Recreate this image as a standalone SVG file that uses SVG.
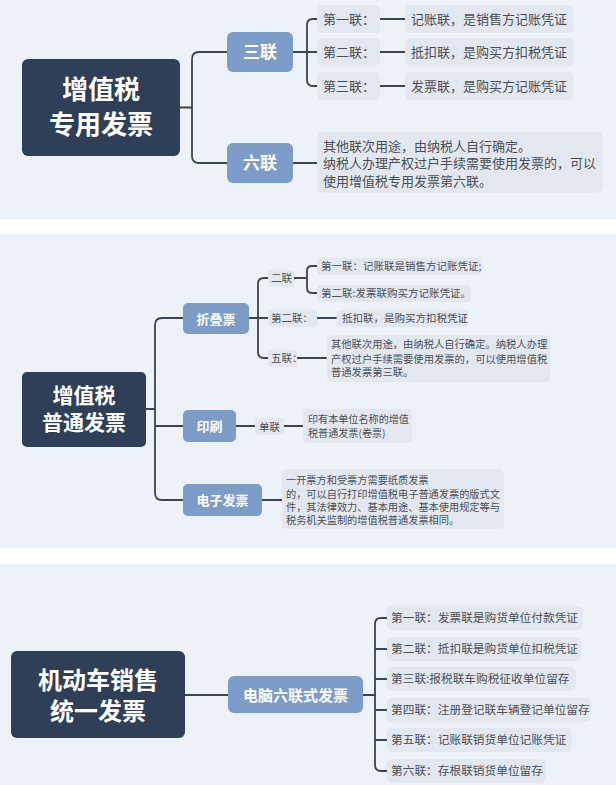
<svg xmlns="http://www.w3.org/2000/svg" width="616" height="785" viewBox="0 0 616 785">
<style>
.panel{fill:#edf1f8}
.root{fill:#2e3f57}
.sub{fill:#7d9cc7}
.box{fill:#e3e8f0}
.ln{fill:none;stroke:#3b4452;stroke-width:1.8;stroke-linecap:round}
text{font-family:"Noto Sans CJK SC","Noto Sans",sans-serif}
.rt{fill:#ffffff;font-weight:bold;text-anchor:middle}
.st{fill:#ffffff;font-weight:bold;text-anchor:middle}
.t{fill:#4a4f57}
</style>
<rect width="616" height="785" fill="#ffffff"/>
<rect class="panel" x="0" y="0" width="616" height="219"/>
<rect class="panel" x="0" y="234" width="616" height="314"/>
<rect class="panel" x="0" y="564" width="616" height="221"/>

<g id="connectors">
<!-- panel 1 -->
<path class="ln" d="M180,107.5 H192 M227,52 H199 Q192,52 192,59 V156 Q192,163 199,163 H227"/>
<path class="ln" d="M293,52 H317 M317,19 H313 Q307,19 307,25 V80 Q307,86 313,86 H317"/>
<path class="ln" d="M380,19 H405 M380,52 H405 M380,86 H405"/>
<path class="ln" d="M293,163 H317"/>
<!-- panel 2 -->
<path class="ln" d="M146,409 H155 M183,318 H162 Q155,318 155,325 V493 Q155,500 162,500 H183 M155,426 H183"/>
<path class="ln" d="M249,318 H268 M268,278 H264 Q258,278 258,284 V352 Q258,358 264,358 H268"/>
<path class="ln" d="M293,278 H307 M317,266 H312 Q307,266 307,271 V288 Q307,293 312,293 H317"/>
<path class="ln" d="M317,318 H336 M297,358 H326"/>
<path class="ln" d="M236,426 H255 M284,426 H303"/>
<path class="ln" d="M262,500 H282"/>
<!-- panel 3 -->
<path class="ln" d="M185,695 H228 M363,695 H375"/>
<path class="ln" d="M387,618 H381 Q375,618 375,624 V765 Q375,771 381,771 H387 M375,649 H387 M375,679 H387 M375,710 H387 M375,740 H387"/>
</g>

<!-- panel 1 nodes -->
<g id="root1">
<rect class="root" x="22" y="59" width="158" height="97" rx="6"/>
<text class="rt" x="101" y="99" font-size="26">增值税</text>
<text class="rt" x="101" y="134" font-size="26">专用发票</text>
</g>
<g id="sanlian">
<rect class="sub" x="227" y="32" width="66" height="40" rx="6"/>
<text class="st" x="260" y="58" font-size="17">三联</text>
</g>
<g id="liulian">
<rect class="sub" x="227" y="143" width="66" height="40" rx="6"/>
<text class="st" x="260" y="169" font-size="17">六联</text>
</g>
<g id="p1-l1"><rect class="box" x="317" y="5" width="63" height="28" rx="5"/><text class="t" x="323" y="23.5" font-size="13">第一联：</text></g>
<g id="p1-v1"><rect class="box" x="405" y="5" width="168" height="28" rx="5"/><text class="t" x="411" y="23.5" font-size="13">记账联，是销售方记账凭证</text></g>
<g id="p1-l2"><rect class="box" x="317" y="38" width="63" height="28" rx="5"/><text class="t" x="323" y="56.5" font-size="13">第二联：</text></g>
<g id="p1-v2"><rect class="box" x="405" y="38" width="168" height="28" rx="5"/><text class="t" x="411" y="56.5" font-size="13">抵扣联，是购买方扣税凭证</text></g>
<g id="p1-l3"><rect class="box" x="317" y="72" width="63" height="28" rx="5"/><text class="t" x="323" y="90.5" font-size="13">第三联：</text></g>
<g id="p1-v3"><rect class="box" x="405" y="72" width="168" height="28" rx="5"/><text class="t" x="411" y="90.5" font-size="13">发票联，是购买方记账凭证</text></g>
<g id="p1-v6">
<rect class="box" x="317" y="132" width="286" height="61" rx="6"/>
<text class="t" x="323" y="150.5" font-size="13">其他联次用途，由纳税人自行确定。</text>
<text class="t" x="323" y="168" font-size="13">纳税人办理产权过户手续需要使用发票的，可以</text>
<text class="t" x="323" y="186" font-size="13">使用增值税专用发票第六联。</text>
</g>

<!-- panel 2 nodes -->
<g id="root2">
<rect class="root" x="22" y="372" width="124" height="75" rx="5"/>
<text class="rt" x="84" y="403" font-size="21">增值税</text>
<text class="rt" x="84" y="430" font-size="21">普通发票</text>
</g>
<g id="zhedie"><rect class="sub" x="183" y="303" width="66" height="31" rx="5"/><text class="st" x="216" y="323.5" font-size="13">折叠票</text></g>
<g id="yinshua"><rect class="sub" x="183" y="410" width="53" height="32" rx="5"/><text class="st" x="209.5" y="430.5" font-size="13">印刷</text></g>
<g id="dianzi"><rect class="sub" x="183" y="484" width="79" height="32" rx="5"/><text class="st" x="222.5" y="504.5" font-size="13">电子发票</text></g>
<g id="erlian"><rect class="box" x="268" y="270" width="26" height="17" rx="4"/><text class="t" x="271" y="282" font-size="10.5">二联</text></g>
<g id="p2-e1"><rect class="box" x="317" y="258" width="164" height="17" rx="4"/><text class="t" x="321" y="270" font-size="10.5">第一联：记账联是销售方记账凭证;</text></g>
<g id="p2-e2"><rect class="box" x="317" y="285" width="154" height="17" rx="4"/><text class="t" x="321" y="297" font-size="10.5">第二联:发票联购买方记账凭证。</text></g>
<g id="p2-l2"><rect class="box" x="268" y="310" width="49" height="17" rx="4"/><text class="t" x="271" y="322" font-size="10.5">第二联：</text></g>
<g id="p2-v2"><rect class="box" x="337" y="310" width="131" height="17" rx="4"/><text class="t" x="342" y="322" font-size="10.5">抵扣联，是购买方扣税凭证</text></g>
<g id="p2-l5"><rect class="box" x="268" y="350" width="29" height="17" rx="4"/><text class="t" x="271" y="362" font-size="10.5">五联：</text></g>
<g id="p2-v5">
<rect class="box" x="327" y="335" width="223" height="47" rx="5"/>
<text class="t" x="331" y="348" font-size="10.3">其他联次用途，由纳税人自行确定。纳税人办理</text>
<text class="t" x="331" y="362.5" font-size="10.3">产权过户手续需要使用发票的，可以使用增值税</text>
<text class="t" x="331" y="376" font-size="10.3">普通发票第三联。</text>
</g>
<g id="danlian"><rect class="box" x="255" y="418" width="29" height="17" rx="4"/><text class="t" x="259" y="430.5" font-size="10.5">单联</text></g>
<g id="p2-ys"><rect class="box" x="303" y="409" width="109" height="34" rx="5"/>
<text class="t" x="308" y="423" font-size="10.1">印有本单位名称的增值</text>
<text class="t" x="308" y="437" font-size="10.1">税普通发票(卷票)</text>
</g>
<g id="p2-dz"><rect class="box" x="282" y="469" width="222" height="60" rx="5"/>
<text class="t" x="286" y="484" font-size="10.2">一开票方和受票方需要纸质发票</text>
<text class="t" x="286" y="498" font-size="10.2">的，可以自行打印增值税电子普通发票的版式文</text>
<text class="t" x="286" y="511" font-size="10.2">件，其法律效力、基本用途、基本使用规定等与</text>
<text class="t" x="286" y="524" font-size="10.2">税务机关监制的增值税普通发票相同。</text>
</g>

<!-- panel 3 nodes -->
<g id="root3">
<rect class="root" x="11" y="651" width="174" height="87" rx="6"/>
<text class="rt" x="98" y="689" font-size="24">机动车销售</text>
<text class="rt" x="98" y="720" font-size="24">统一发票</text>
</g>
<g id="diannao"><rect class="sub" x="228" y="676" width="135" height="37" rx="6"/><text class="st" x="295.5" y="700.5" font-size="15">电脑六联式发票</text></g>
<g id="p3-1"><rect class="box" x="387" y="606" width="196" height="24" rx="5"/><text class="t" x="391" y="622" font-size="11.7">第一联：发票联是购货单位付款凭证</text></g>
<g id="p3-2"><rect class="box" x="387" y="637" width="194" height="24" rx="5"/><text class="t" x="391" y="653" font-size="11.7">第二联：抵扣联是购货单位扣税凭证</text></g>
<g id="p3-3"><rect class="box" x="387" y="667" width="189" height="24" rx="5"/><text class="t" x="391" y="683" font-size="11.7">第三联:报税联车购税征收单位留存</text></g>
<g id="p3-4"><rect class="box" x="387" y="698" width="204" height="24" rx="5"/><text class="t" x="391" y="714" font-size="11.7">第四联：注册登记联车辆登记单位留存</text></g>
<g id="p3-5"><rect class="box" x="387" y="728" width="185" height="24" rx="5"/><text class="t" x="391" y="744" font-size="11.7">第五联：记账联销货单位记账凭证</text></g>
<g id="p3-6"><rect class="box" x="387" y="759" width="159" height="24" rx="5"/><text class="t" x="391" y="775" font-size="11.7">第六联：存根联销货单位留存</text></g>
</svg>
